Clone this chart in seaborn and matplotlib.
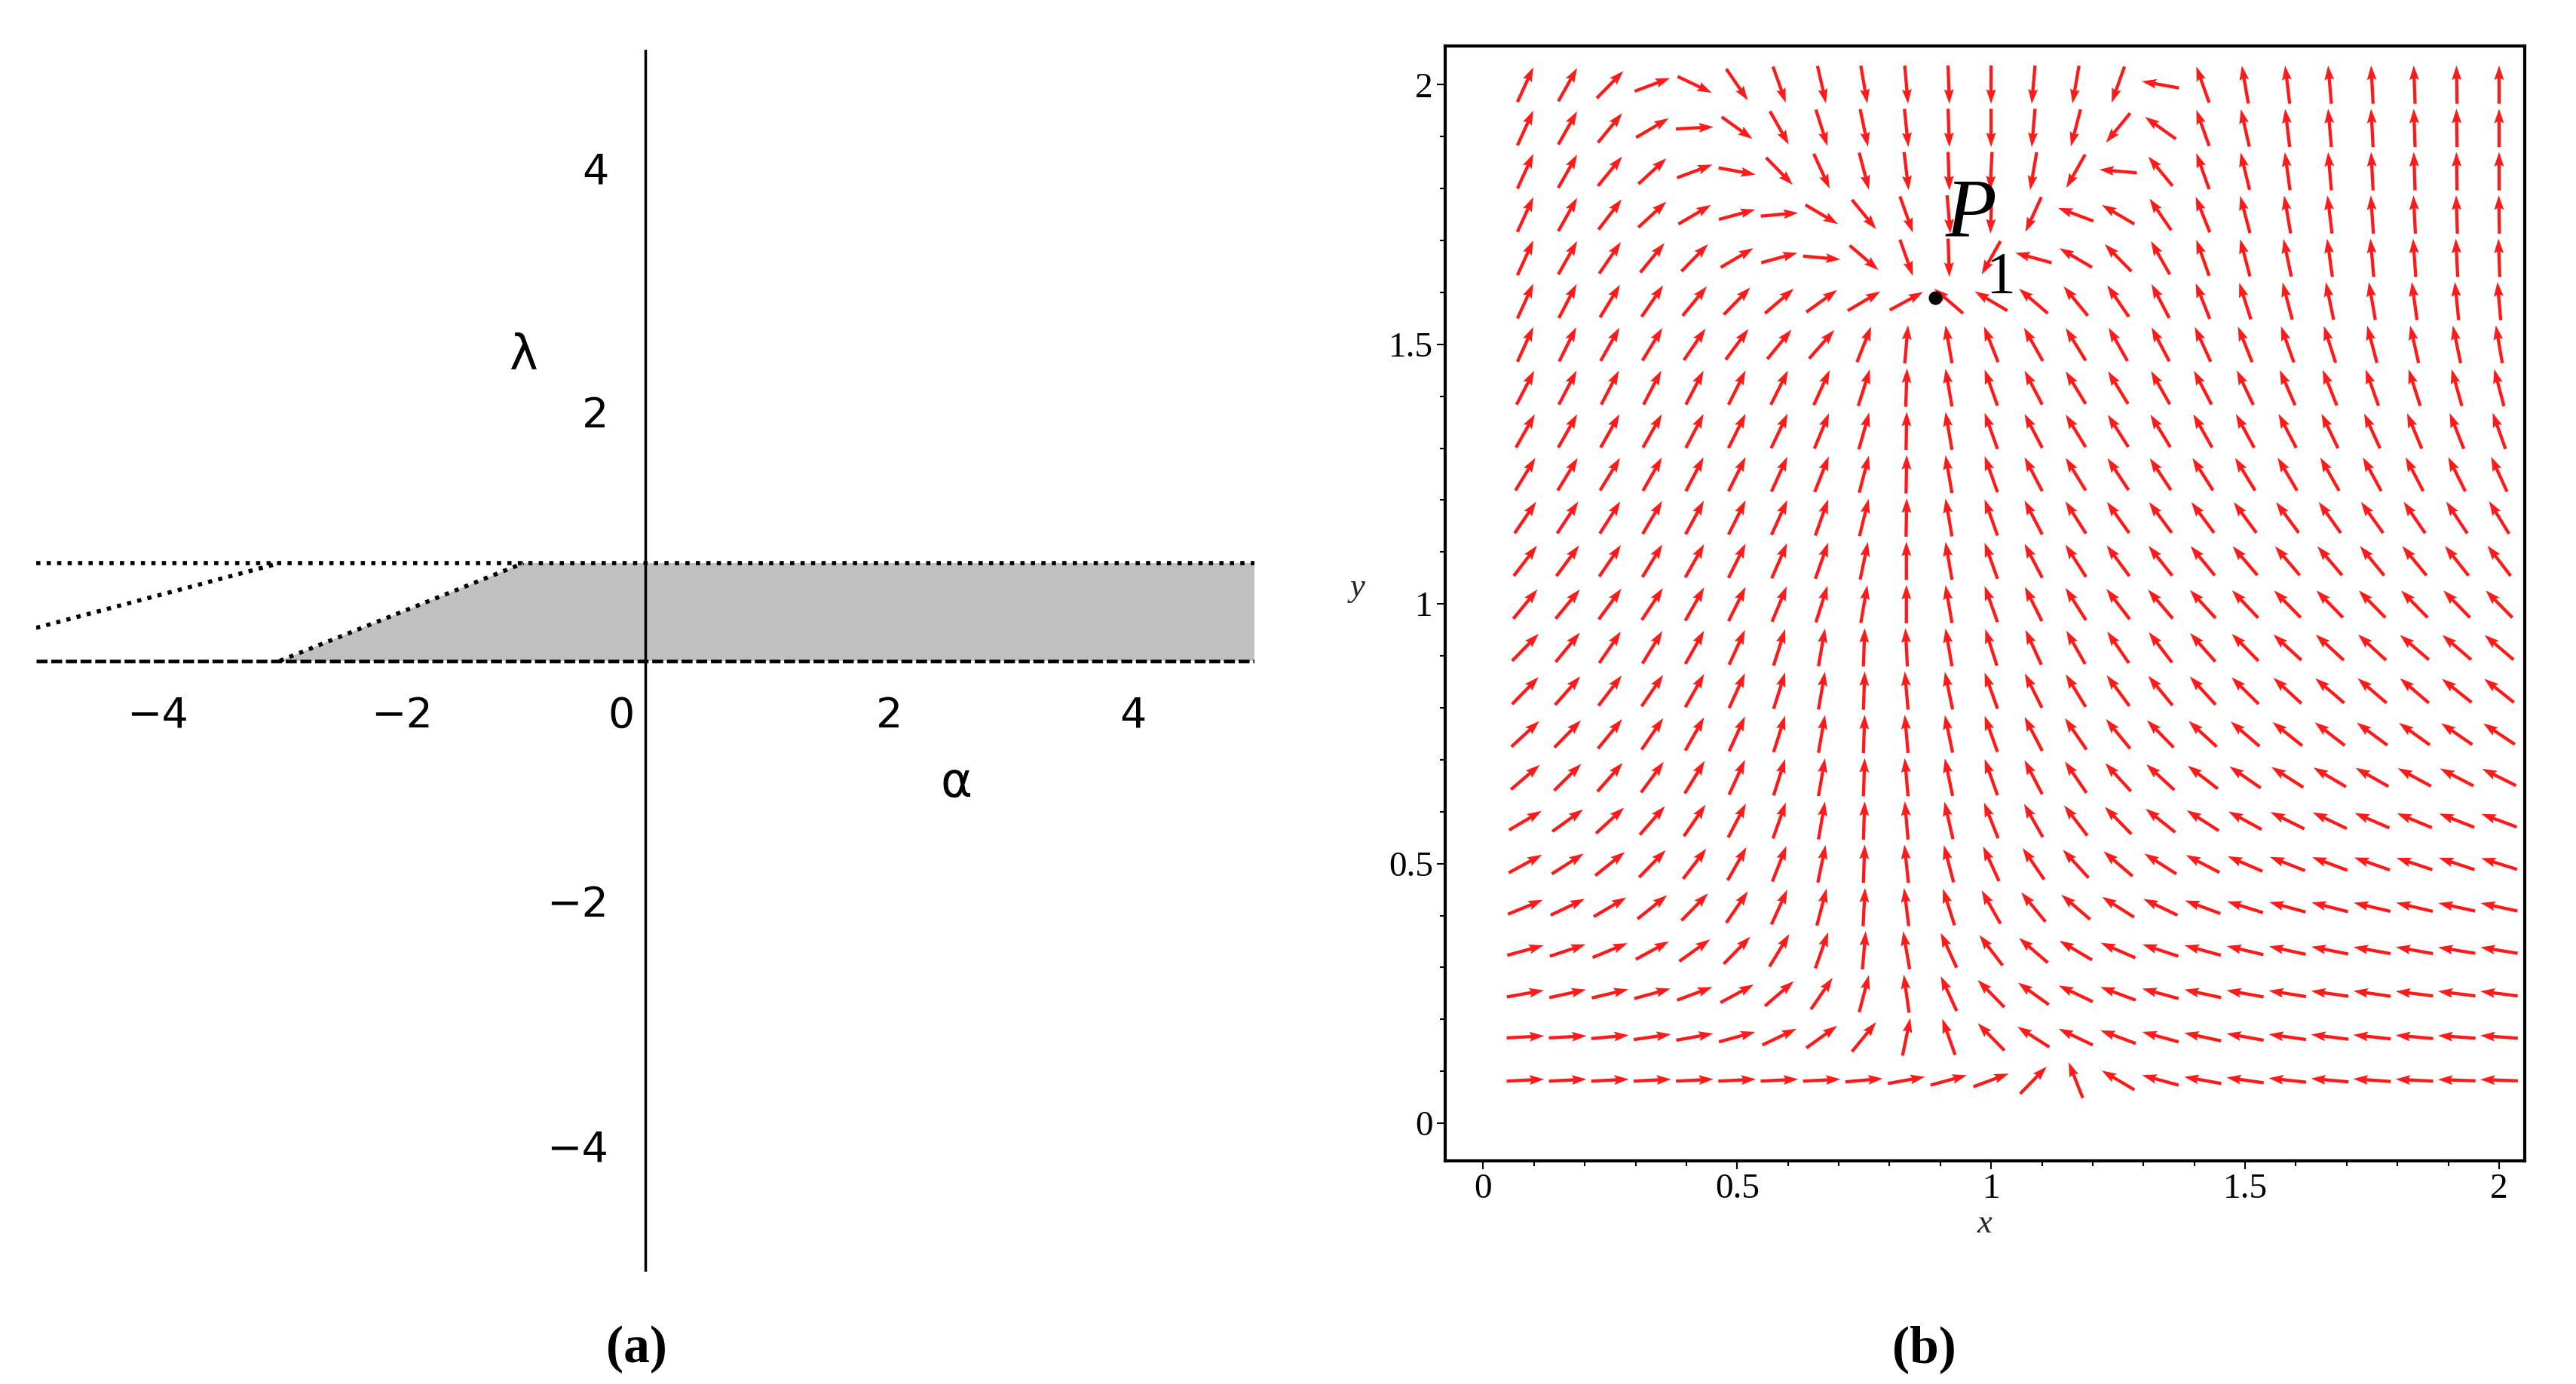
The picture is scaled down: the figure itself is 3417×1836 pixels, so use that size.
import numpy as np
import matplotlib
matplotlib.use("Agg")
import matplotlib.pyplot as plt
import seaborn as sns

# ---- panel (a) data ----
alpha_ticks = [-4, -2, 0, 2, 4]
lambda_ticks = [-4, -2, 2, 4]
region_alpha = [-3, -1, 5, 5]
region_lambda = [0, 0.8, 0.8, 0]
upper_line = ([-5, 5], [0.8, 0.8])
lower_line = ([-5, 5], [0, 0])
diag_left = ([-5, -3], [0.27, 0.8])
diag_right = ([-3, -1], [0, 0.8])

# ---- panel (b) data: direction field, arrow angles (deg) read per grid cell ----
grid_x = np.linspace(0.083, 2.0, 24)
grid_y = np.linspace(0.083, 2.0, 24)
p1 = (0.89, 1.59)
# rows from bottom (y=0.08) to top (y=2.0)
angles = [
    [3, 3, 3, 3, 3, 3, 3, 3, 5, 10, 15, 20, 45, 112, 150, 165, 170, 172, 174, 175, 176, 177, 178, 178],
    [3, 3, 5, 8, 10, 15, 25, 35, 50, 78, 110, 135, 148, 155, 160, 165, 168, 170, 172, 173, 174, 175, 176, 176],
    [10, 12, 13, 15, 20, 28, 40, 55, 75, 98, 115, 135, 145, 155, 160, 165, 168, 170, 171, 172, 172, 173, 173, 173],
    [15, 18, 22, 28, 35, 45, 58, 70, 85, 100, 115, 128, 140, 150, 157, 162, 165, 167, 168, 169, 170, 170, 171, 171],
    [22, 25, 30, 38, 45, 55, 65, 75, 87, 97, 108, 120, 130, 140, 148, 155, 160, 163, 165, 166, 167, 167, 168, 168],
    [28, 32, 38, 45, 52, 60, 68, 78, 88, 96, 105, 115, 125, 133, 140, 148, 153, 157, 159, 160, 161, 162, 162, 163],
    [30, 35, 42, 48, 55, 62, 70, 80, 88, 95, 103, 112, 120, 128, 135, 142, 148, 152, 154, 155, 157, 158, 159, 160],
    [40, 44, 48, 53, 58, 65, 72, 80, 88, 95, 102, 110, 118, 125, 133, 138, 143, 146, 148, 150, 151, 152, 153, 154],
    [42, 45, 50, 55, 60, 65, 72, 80, 88, 95, 102, 110, 118, 125, 130, 135, 138, 140, 142, 143, 144, 145, 146, 147],
    [45, 48, 52, 55, 60, 65, 72, 80, 88, 95, 102, 110, 117, 122, 127, 130, 133, 136, 138, 140, 140, 140, 142, 142],
    [45, 50, 55, 58, 60, 65, 72, 80, 88, 93, 100, 108, 115, 120, 125, 128, 132, 135, 138, 138, 138, 140, 140, 140],
    [50, 50, 53, 56, 60, 63, 67, 72, 80, 90, 100, 110, 117, 123, 128, 131, 133, 134, 135, 135, 135, 135, 135, 135],
    [52, 53, 55, 58, 60, 63, 66, 70, 78, 90, 100, 110, 118, 123, 127, 129, 130, 131, 131, 131, 130, 130, 129, 128],
    [55, 56, 57, 59, 61, 63, 65, 70, 76, 89, 100, 110, 118, 123, 126, 127, 127, 127, 127, 126, 126, 125, 124, 122],
    [58, 58, 58, 60, 62, 63, 65, 68, 75, 89, 100, 110, 118, 122, 124, 124, 123, 122, 121, 120, 119, 118, 117, 115],
    [60, 60, 60, 60, 62, 63, 64, 67, 74, 89, 100, 110, 118, 122, 123, 122, 120, 119, 118, 116, 115, 113, 112, 110],
    [62, 62, 62, 62, 62, 63, 63, 65, 72, 88, 100, 110, 118, 122, 122, 120, 118, 116, 114, 112, 110, 108, 106, 105],
    [65, 63, 60, 58, 55, 53, 50, 48, 68, 85, 100, 112, 120, 122, 120, 118, 115, 112, 110, 108, 105, 103, 102, 100],
    [65, 62, 58, 55, 50, 45, 40, 35, 30, 28, 140, 150, 140, 130, 125, 118, 112, 108, 105, 102, 100, 98, 96, 95],
    [65, 60, 55, 50, 45, 30, 15, -5, -40, -70, -88, -120, 165, 150, 135, 120, 110, 105, 102, 98, 95, 94, 93, 92],
    [65, 60, 52, 42, 30, 15, 5, -30, -50, -70, -85, -92, -115, 160, 150, 125, 112, 105, 100, 97, 94, 93, 92, 91],
    [65, 60, 50, 42, 20, -10, -45, -65, -75, -83, -88, -93, -100, -120, 175, 130, 110, 104, 98, 95, 93, 92, 91, 90],
    [65, 60, 50, 30, 3, -35, -60, -72, -78, -84, -88, -90, -95, -105, -130, 145, 110, 103, 97, 95, 93, 92, 91, 90],
    [65, 60, 45, 20, -25, -55, -70, -77, -80, -85, -88, -90, -95, -100, -110, 170, 110, 100, 97, 95, 93, 92, 91, 90],
]
x_ticks = [0, 0.5, 1, 1.5, 2]
x_tick_labels = ["0", "0.5", "1", "1.5", "2"]

sns.set_style("white")
plt.rcParams['font.family'] = ['DejaVu Sans']
plt.rcParams['text.color'] = 'black'
plt.rcParams['xtick.color'] = 'black'
plt.rcParams['ytick.color'] = 'black'

fig = plt.figure(figsize=(34.17, 18.36), dpi=100)

# ---------------- (a) ----------------
ax = fig.add_axes([0.014, 0.081, 0.473, 0.883])
ax.set_xlim(-5, 5)
ax.set_ylim(-5, 5)
ax.fill(region_alpha, region_lambda, color="#c0c0c0", lw=0)
sns.lineplot(x=upper_line[0], y=upper_line[1], ax=ax, color="black", lw=4, linestyle=(0, (1, 1.5)))
sns.lineplot(x=lower_line[0], y=lower_line[1], ax=ax, color="black", lw=3.5, linestyle=(0, (3, 1)))
sns.lineplot(x=diag_left[0], y=diag_left[1], ax=ax, color="black", lw=4, linestyle=(0, (1, 1.5)))
sns.lineplot(x=diag_right[0], y=diag_right[1], ax=ax, color="black", lw=4, linestyle=(0, (1, 1.5)))
ax.plot([0, 0], [-5, 5], color="black", lw=2.5)
for s in ax.spines.values():
    s.set_visible(False)
ax.set_xticks([])
ax.set_yticks([])
for t in alpha_ticks:
    lab = "0" if t == 0 else str(t).replace("-", "\u2212")
    ax.text(t if t != 0 else -0.2, -0.45, lab, ha="center", va="center", fontsize=40)
for t in lambda_ticks:
    ax.text(-0.3, t, str(t).replace("-", "\u2212"), ha="right", va="center", fontsize=40)
ax.text(-1.0, 2.5, "\u03bb", ha="center", va="center", fontsize=46)
ax.text(2.55, -1.0, "\u03b1", ha="center", va="center", fontsize=46)
fig.text(0.247, 0.025, "(a)", ha="center", va="center", fontsize=50,
         family="Liberation Serif", fontweight="bold")

# ---------------- (b) ----------------
bx = fig.add_axes([0.561, 0.161, 0.419, 0.806])
X, Y = np.meshgrid(grid_x, grid_y)
th = np.deg2rad(np.array(angles, dtype=float))
L = 0.074
bx.quiver(X, Y, L * np.cos(th), L * np.sin(th), angles="xy", scale_units="xy", scale=1,
          pivot="middle", color="#ff1a1a", width=0.003, headwidth=3.0, headlength=4.5,
          headaxislength=4)
bx.plot([p1[0]], [p1[1]], "o", color="black", ms=12)
bx.text(p1[0] + 0.02, p1[1] + 0.12, "P", fontsize=80, style="italic", family="Liberation Serif")
bx.text(p1[0] + 0.1, p1[1] + 0.01, "1", fontsize=56, family="Liberation Serif")
bx.set_xlim(-0.075, 2.05)
bx.set_ylim(-0.073, 2.075)
for s in bx.spines.values():
    s.set_visible(True)
    s.set_color("black")
    s.set_linewidth(3)
bx.set_xticks(x_ticks)
bx.set_xticklabels(x_tick_labels)
bx.set_yticks(x_ticks)
bx.set_yticklabels(x_tick_labels)
bx.set_xticks(np.arange(0, 2.05, 0.1), minor=True)
bx.set_yticks(np.arange(0, 2.05, 0.1), minor=True)
bx.tick_params(which="both", direction="out", length=8, width=1.5, labelsize=34, bottom=True, left=True)
bx.tick_params(which="minor", length=5)
for lab in bx.get_xticklabels() + bx.get_yticklabels():
    lab.set_family("Liberation Serif")
bx.set_xlabel("x", fontsize=32, style="italic", family="Liberation Serif", labelpad=4)
bx.set_ylabel("y", fontsize=32, style="italic", family="Liberation Serif", rotation=0, labelpad=30)
fig.text(0.747, 0.025, "(b)", ha="center", va="center", fontsize=50,
         family="Liberation Serif", fontweight="bold")

fig.savefig("out.png", dpi=100)
